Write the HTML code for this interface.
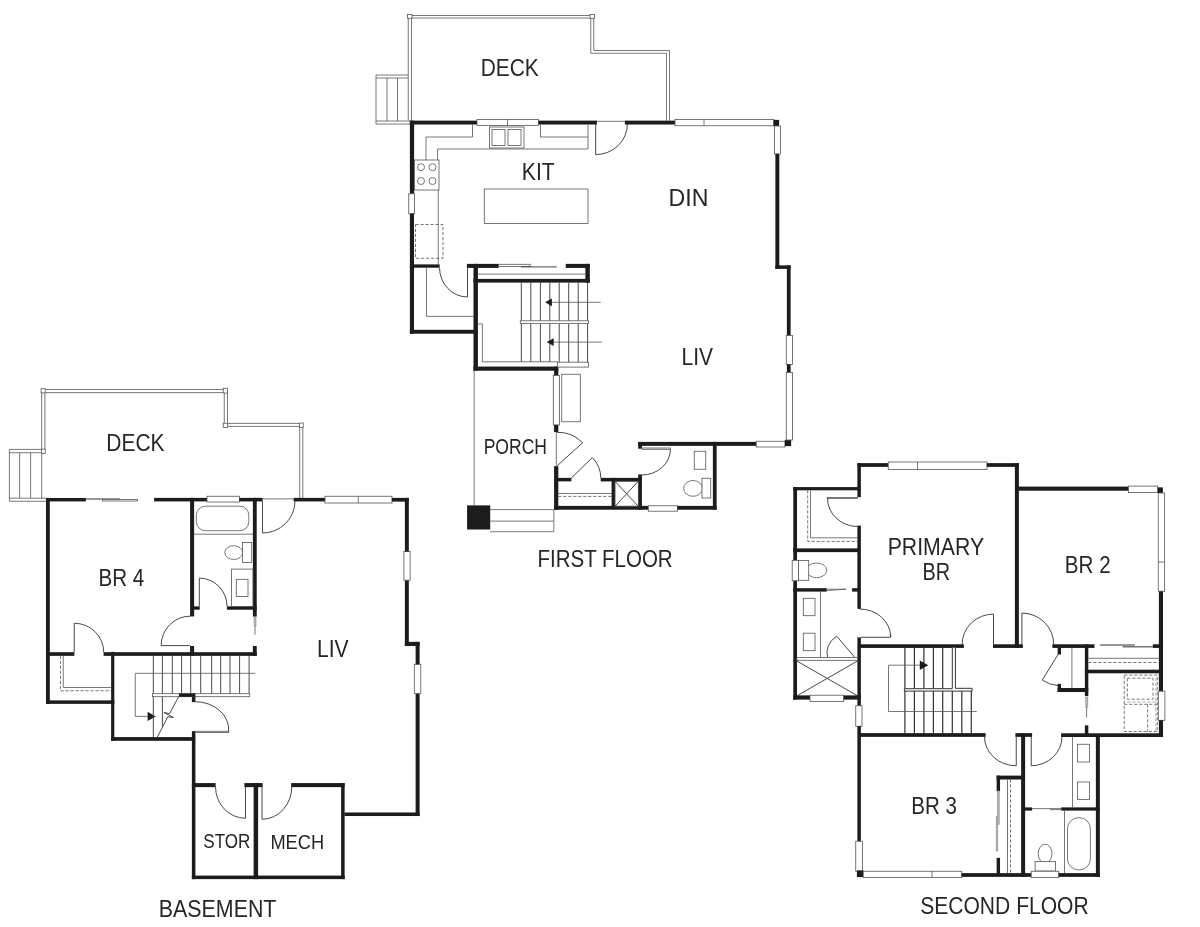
<!DOCTYPE html>
<html><head><meta charset="utf-8"><title>Floor Plans</title>
<style>
html,body{margin:0;padding:0;background:#fff}
svg{display:block}
.w{fill:#1c1c1c;stroke:none}
.t{fill:none;stroke:#555;stroke-width:.8}
.s{fill:none;stroke:#333;stroke-width:.9}
.sg{fill:none;stroke:#4a4a4a;stroke-width:1}
.st{fill:none;stroke:#333;stroke-width:1.2}
.nr{fill:#fff;stroke:#333;stroke-width:1}
.n{fill:#fff;stroke:#555;stroke-width:.8}
.d{fill:none;stroke:#555;stroke-width:.8;stroke-dasharray:3.2 1.8}
.d2{fill:none;stroke:#999;stroke-width:.8;stroke-dasharray:3.2 1.8}
.g{fill:none;stroke:#777;stroke-width:1.4}
.g2{fill:#bbb;stroke:#888;stroke-width:.6}
text{font-family:"Liberation Sans",sans-serif;fill:#262626}
.tx{filter:grayscale(1)}
</style></head><body>
<svg width="1200" height="927" viewBox="0 0 1200 927">
<rect x="0" y="0" width="1200" height="927" fill="#fff"/>
<rect class="n" x="407.50" y="14.50" width="4.50" height="3.80"/>
<rect class="n" x="590.00" y="14.50" width="4.50" height="3.80"/>
<path class="t" d="M412 15.5H590M412 18H590"/>
<path class="t" d="M408.25 18.3V120.5M411.5 18.3V120.5"/>
<path class="t" d="M593.75 18.3V50.5H669.5V120.7"/>
<path class="t" d="M590.75 18.3V53.25H666.5V120.7"/>
<path class="t" d="M408 75H376V124H410M376 78H408M376 121H410M387 78V121M397.5 78V121"/>
<rect class="w" x="409.88" y="120.63" width="67.24" height="3.89"/>
<rect class="n" x="477.00" y="119.50" width="61.50" height="6.00"/>
<path class="t" d="M507.5 119.5V125.5"/>
<rect class="w" x="538.38" y="120.63" width="58.54" height="3.89"/>
<path class="t" d="M596.5 121.3H625"/>
<path class="s" d="M595.7 124V154.6A31.7 30.6 0 0 0 627.4 124"/>
<rect class="w" x="624.88" y="120.63" width="50.24" height="3.89"/>
<rect class="n" x="675.00" y="119.50" width="98.75" height="6.25"/>
<path class="t" d="M704 119.5V125.75"/>
<rect class="w" x="773.63" y="119.88" width="5.49" height="6.24"/>
<rect class="n" x="774.50" y="126.00" width="6.00" height="28.00"/>
<rect class="w" x="409.88" y="120.63" width="4.24" height="73.24"/>
<rect class="n" x="408.75" y="193.75" width="5.75" height="20.00"/>
<rect class="w" x="409.88" y="213.63" width="4.14" height="120.09"/>
<rect class="w" x="409.88" y="264.38" width="29.74" height="3.34"/>
<rect class="w" x="409.88" y="329.78" width="67.74" height="3.94"/>
<rect class="w" x="473.48" y="263.88" width="4.44" height="106.84"/>
<rect class="w" x="466.88" y="263.88" width="31.84" height="4.04"/>
<rect class="w" x="565.78" y="263.88" width="24.04" height="4.04"/>
<rect class="w" x="585.38" y="263.88" width="4.44" height="18.74"/>
<rect class="w" x="473.48" y="278.88" width="116.34" height="3.74"/>
<rect class="w" x="473.48" y="366.58" width="84.84" height="4.14"/>
<rect class="w" x="554.08" y="366.58" width="4.24" height="9.04"/>
<rect class="n" x="498.60" y="264.30" width="31.50" height="2.10"/>
<path class="s" d="M521 266.9H556.8"/>
<path class="t" d="M477.8 274.1H585.5"/>
<rect class="n" x="553.30" y="375.50" width="6.10" height="49.50"/>
<rect class="w" x="554.08" y="424.88" width="4.24" height="7.24"/>
<rect class="w" x="554.08" y="466.18" width="4.24" height="43.54"/>
<rect class="w" x="554.08" y="505.88" width="94.34" height="3.84"/>
<rect class="n" x="648.30" y="505.80" width="29.10" height="5.40"/>
<rect class="w" x="677.28" y="505.88" width="39.34" height="3.84"/>
<rect class="w" x="557.38" y="477.88" width="13.99" height="3.49"/>
<rect class="w" x="600.68" y="477.88" width="41.24" height="3.54"/>
<rect class="w" x="611.58" y="477.88" width="3.54" height="31.24"/>
<rect class="w" x="638.18" y="442.08" width="3.74" height="6.64"/>
<rect class="w" x="638.18" y="474.48" width="3.74" height="35.24"/>
<rect class="w" x="638.13" y="441.88" width="118.24" height="3.99"/>
<rect class="n" x="756.25" y="441.25" width="28.75" height="5.75"/>
<rect class="w" x="784.88" y="439.88" width="6.24" height="6.24"/>
<rect class="w" x="712.88" y="441.88" width="3.74" height="67.84"/>
<rect class="w" x="775.38" y="153.88" width="3.94" height="114.99"/>
<rect class="w" x="775.38" y="265.38" width="15.24" height="3.49"/>
<rect class="w" x="786.88" y="265.38" width="3.74" height="70.24"/>
<rect class="n" x="786.25" y="335.50" width="6.25" height="29.00"/>
<rect class="w" x="786.88" y="364.38" width="3.74" height="8.24"/>
<rect class="n" x="786.25" y="372.50" width="6.25" height="67.50"/>
<path class="t" d="M472.5 124.4V137H426V160"/>
<path class="t" d="M437.5 160V149H588V124.4"/>
<path class="t" d="M540.5 124.4V137H588"/>
<rect class="n" x="489.50" y="127.00" width="34.50" height="21.00"/>
<rect class="t" x="492.00" y="129.50" width="13.00" height="16.00"/>
<rect class="t" x="508.00" y="129.50" width="13.00" height="16.00"/>
<rect class="n" x="414.50" y="160.00" width="24.50" height="30.00"/>
<circle class="t" cx="421" cy="167.2" r="3.5"/>
<circle class="t" cx="421" cy="181" r="3.5"/>
<circle class="t" cx="432.5" cy="167.2" r="3.5"/>
<circle class="t" cx="432.5" cy="181" r="3.5"/>
<path class="t" d="M438.25 190V264.5"/>
<rect class="d" x="415.50" y="224.50" width="27.50" height="33.75"/>
<rect class="t" x="484.30" y="189.00" width="103.70" height="34.50"/>
<path class="s" d="M439.5 267.6A28 29.5 0 0 0 467.5 297V267.8"/>
<path class="t" d="M426.5 267.6V316.4H473.6"/>
<path class="sg" d="M521.3 282.5V320.8M521.3 323.6V361.8"/>
<path class="sg" d="M530.8 282.5V320.8M530.8 323.6V361.8"/>
<path class="sg" d="M540.4 282.5V320.8M540.4 323.6V361.8"/>
<path class="sg" d="M549.8 282.5V320.8M549.8 323.6V361.8"/>
<path class="sg" d="M559.2 282.5V320.8M559.2 323.6V362.5"/>
<path class="sg" d="M568.7 282.5V320.8M568.7 323.6V362.5"/>
<path class="sg" d="M578.2 282.5V320.8M578.2 323.6V362.5"/>
<path class="sg" d="M587.6 282.5V320.8M587.6 323.6V362.5"/>
<rect class="n" x="520.30" y="320.80" width="68.30" height="2.80"/>
<rect class="n" x="557.50" y="362.20" width="31.10" height="4.90"/>
<path class="t" d="M600.7 302.3H551"/>
<polygon class="w" points="545.1,302.3 551.9,298.4 551.9,306.2"/>
<path class="t" d="M601.9 342.1H553"/>
<polygon class="w" points="546.7,342.1 553.7,338.2 553.7,346"/>
<path class="t" d="M477.8 323.9H482.4V361.8H557.5"/>
<path class="t" d="M474.2 370.6V505.5"/>
<rect class="w" x="467.08" y="505.38" width="23.14" height="24.14"/>
<path class="t" d="M490.1 509.6H553.8V531.7H490.1M490.1 521.1H553.8"/>
<rect class="t" x="561.75" y="374.25" width="18.55" height="47.50"/>
<path class="t" d="M556.3 432.3V466"/>
<path class="s" d="M557.3 465.7L582.6 442.75A34 33.4 0 0 0 556.7 432.3"/>
<path class="s" d="M571.3 478L592.3 457.6A29.3 29 0 0 1 600.8 478"/>
<rect class="t" x="615.00" y="481.30" width="23.30" height="25.00"/>
<path class="s" d="M615 481.3L638.3 506.3M638.3 481.3L615 506.3"/>
<path class="t" d="M558.2 493.5H611.7"/>
<path class="d" d="M558.2 496.4H611.7"/>
<rect class="n" x="641.80" y="448.00" width="28.60" height="1.30"/>
<path class="s" d="M670.4 449.3A28.6 25.7 0 0 1 641.8 475"/>
<rect class="t" x="694.25" y="451.25" width="11.50" height="18.00"/>
<ellipse class="n" cx="693" cy="488.4" rx="9.4" ry="7.9"/>
<rect class="n" x="702.00" y="478.25" width="8.75" height="19.75"/>
<path class="t" d="M45.2 389.5H223.25M45.2 392.6H223.25"/>
<path class="t" d="M41.7 392.9V449.1M44.9 392.9V449.1"/>
<path class="t" d="M224.25 393V423.25M227.5 393V423.25"/>
<path class="t" d="M227.5 423.4H299.4M227.5 426.4H299.4M299.7 427.6V498M302.8 427.6V498"/>
<rect class="n" x="299.40" y="423.00" width="3.80" height="4.60"/>
<rect class="n" x="41.10" y="388.70" width="4.10" height="4.20"/>
<rect class="n" x="223.25" y="388.25" width="4.25" height="4.75"/>
<rect class="n" x="223.25" y="423.25" width="4.25" height="4.25"/>
<rect class="n" x="41.40" y="449.10" width="3.80" height="4.30"/>
<path class="t" d="M41.4 449.4H9.4V501.3H46.3M9.4 452.7H41.4M9.4 498.2H46.3M19.6 452.7V498.2M30.6 452.7V498.2M41.7 453.4V498.2"/>
<rect class="w" x="45.98" y="497.98" width="39.94" height="3.44"/>
<path class="g" d="M85.8 499H120"/>
<rect class="n" x="102.40" y="499.40" width="35.00" height="1.60"/>
<rect class="w" x="154.08" y="497.88" width="53.04" height="3.54"/>
<rect class="n" x="207.00" y="496.25" width="32.50" height="5.75"/>
<rect class="w" x="239.38" y="497.88" width="23.24" height="3.54"/>
<path class="t" d="M262.5 498.9H293.75"/>
<path class="s" d="M262.5 501.25V533A32.5 32 0 0 0 295 501.25"/>
<rect class="w" x="293.63" y="497.88" width="31.49" height="3.54"/>
<rect class="n" x="325.00" y="496.25" width="67.00" height="6.75"/>
<path class="t" d="M358.25 496.25V503"/>
<rect class="w" x="391.88" y="497.88" width="16.94" height="3.74"/>
<rect class="w" x="45.98" y="497.98" width="3.84" height="205.89"/>
<rect class="w" x="190.08" y="497.88" width="4.04" height="118.54"/>
<rect class="w" x="190.08" y="645.98" width="4.04" height="9.89"/>
<rect class="w" x="252.88" y="497.88" width="3.84" height="118.74"/>
<rect class="w" x="252.88" y="645.98" width="3.84" height="9.89"/>
<rect class="w" x="193.63" y="606.38" width="6.09" height="3.34"/>
<rect class="w" x="226.88" y="606.38" width="29.84" height="3.34"/>
<rect class="w" x="45.98" y="652.18" width="28.39" height="3.69"/>
<rect class="w" x="103.63" y="652.18" width="153.09" height="3.69"/>
<rect class="w" x="45.98" y="700.38" width="68.34" height="3.49"/>
<rect class="w" x="111.13" y="651.88" width="3.19" height="88.94"/>
<rect class="w" x="111.13" y="737.08" width="83.99" height="3.74"/>
<rect class="w" x="191.88" y="731.13" width="3.54" height="147.99"/>
<rect class="w" x="191.88" y="693.58" width="3.54" height="8.54"/>
<rect class="w" x="178.88" y="693.58" width="16.54" height="3.24"/>
<rect class="w" x="191.88" y="783.08" width="23.74" height="4.04"/>
<rect class="w" x="244.38" y="783.08" width="18.24" height="4.04"/>
<rect class="w" x="291.13" y="783.08" width="53.49" height="4.04"/>
<rect class="w" x="253.63" y="783.08" width="4.49" height="96.04"/>
<rect class="w" x="191.88" y="875.58" width="152.74" height="3.54"/>
<rect class="w" x="341.13" y="783.08" width="3.49" height="96.04"/>
<rect class="w" x="344.38" y="812.48" width="75.24" height="3.54"/>
<rect class="w" x="415.63" y="693.48" width="3.99" height="122.54"/>
<rect class="n" x="414.30" y="664.25" width="6.50" height="29.35"/>
<rect class="w" x="415.63" y="641.88" width="3.99" height="22.49"/>
<rect class="w" x="404.88" y="641.88" width="14.74" height="4.14"/>
<rect class="w" x="404.88" y="579.88" width="3.94" height="66.14"/>
<rect class="n" x="403.90" y="551.40" width="6.20" height="28.80"/>
<rect class="w" x="404.88" y="497.88" width="3.94" height="53.64"/>
<path class="t" d="M193.75 534.2H253"/>
<rect class="t" x="196.40" y="506.20" width="52.40" height="24.50" rx="9"/>
<ellipse class="n" cx="233.75" cy="552.6" rx="8.9" ry="6.9"/>
<rect class="n" x="242.50" y="542.50" width="9.25" height="20.00"/>
<rect class="t" x="231.60" y="569.10" width="21.40" height="37.40"/>
<rect class="t" x="236.30" y="579.30" width="11.70" height="17.20"/>
<path class="s" d="M199.3 606.5V578.1A27.75 28.4 0 0 1 227.05 606.5"/>
<rect class="g2" x="254.10" y="617.20" width="1.90" height="8.80"/>
<path class="t" d="M255 626V634.8"/>
<path class="s" d="M190.2 645.6H161.1A29.4 29.5 0 0 1 190.6 616.1"/>
<path class="s" d="M74.25 652.3V623.25A29.5 29 0 0 1 103.75 652.3"/>
<path class="t" d="M63.25 655.75V687.5H111.25"/>
<path class="d" d="M60.5 655.75V690.75H111.25"/>
<path class="sg" d="M153.3 655.75V693.7"/>
<path class="sg" d="M162.4 655.75V693.7"/>
<path class="sg" d="M172.3 655.75V693.7"/>
<path class="sg" d="M181.6 655.75V693.7"/>
<path class="sg" d="M190.7 655.75V693.7"/>
<path class="sg" d="M200.7 655.75V693.7"/>
<path class="sg" d="M211.7 655.75V693.7"/>
<path class="sg" d="M220.7 655.75V693.7"/>
<path class="sg" d="M230 655.75V693.7"/>
<path class="sg" d="M239.6 655.75V693.7"/>
<path class="sg" d="M249.1 655.75V693.7"/>
<rect class="n" x="152.40" y="693.70" width="97.30" height="3.00"/>
<rect class="w" x="178.88" y="693.58" width="16.54" height="3.24"/>
<path class="t" d="M255.3 673.3H135.3V716.4H148"/>
<polygon class="w" points="155.7,716.4 147.6,711.7 147.6,721.1"/>
<path class="sg" d="M153.3 696.7V737.2"/>
<path class="sg" d="M162.4 696.7V727"/>
<path class="s" d="M178.7 696.7L169.6 713.6L164 712.5L173.3 717.4L167.8 716.8L157.3 737.2"/>
<rect class="n" x="195.30" y="731.30" width="33.40" height="1.20"/>
<path class="s" d="M195.3 701.7A33.5 28 0 0 1 228.7 731"/>
<path class="s" d="M245.5 786.75V818.25A30 31.5 0 0 1 215.5 786.75"/>
<path class="s" d="M262 786.75V819.25A29.75 32.5 0 0 0 291.75 786.75"/>
<rect class="w" x="857.38" y="463.13" width="30.99" height="3.74"/>
<rect class="n" x="888.25" y="462.00" width="98.75" height="7.50"/>
<path class="t" d="M917.5 462V469.5"/>
<rect class="w" x="986.88" y="463.13" width="31.99" height="3.74"/>
<rect class="w" x="857.38" y="463.13" width="3.49" height="33.99"/>
<rect class="w" x="857.38" y="525.63" width="3.49" height="83.24"/>
<rect class="w" x="857.38" y="637.38" width="3.49" height="68.49"/>
<rect class="n" x="855.75" y="705.75" width="6.25" height="20.50"/>
<rect class="w" x="857.38" y="726.13" width="3.49" height="115.24"/>
<rect class="n" x="855.75" y="841.25" width="6.75" height="30.00"/>
<rect class="w" x="856.88" y="870.38" width="6.49" height="6.74"/>
<rect class="w" x="1014.88" y="463.13" width="3.99" height="184.49"/>
<rect class="w" x="1017.88" y="486.58" width="110.64" height="4.14"/>
<rect class="n" x="1128.40" y="486.10" width="29.35" height="6.50"/>
<rect class="w" x="1157.63" y="487.38" width="5.24" height="5.64"/>
<rect class="n" x="1158.25" y="493.00" width="6.40" height="98.25"/>
<path class="t" d="M1158.25 562H1164.65"/>
<rect class="w" x="1158.88" y="591.38" width="4.14" height="99.94"/>
<rect class="n" x="1158.30" y="691.20" width="6.60" height="29.10"/>
<rect class="w" x="1158.88" y="720.18" width="4.14" height="16.84"/>
<rect class="w" x="793.28" y="487.08" width="64.84" height="3.24"/>
<rect class="w" x="793.28" y="486.98" width="3.74" height="212.64"/>
<rect class="n" x="792.20" y="560.30" width="6.40" height="20.50"/>
<rect class="w" x="793.28" y="548.38" width="64.84" height="3.74"/>
<rect class="w" x="793.13" y="588.18" width="33.59" height="3.44"/>
<rect class="w" x="852.08" y="588.18" width="7.04" height="3.44"/>
<path class="t" d="M826.6 589.2H846L826.6 590.6"/>
<rect class="w" x="793.13" y="695.38" width="16.99" height="4.24"/>
<rect class="n" x="810.00" y="695.20" width="33.75" height="6.30"/>
<rect class="w" x="843.63" y="695.38" width="17.24" height="4.24"/>
<path class="t" d="M810.5 490.3V537.8H857.5"/>
<path class="d" d="M807.7 490.3V541.4H857.5"/>
<rect class="n" x="827.30" y="497.40" width="30.20" height="1.00"/>
<path class="s" d="M827.5 498.3A30 28.2 0 0 0 857.5 526.5"/>
<ellipse class="n" cx="816.5" cy="570.35" rx="10.2" ry="7.35"/>
<rect class="n" x="798.60" y="560.40" width="10.10" height="19.90"/>
<path class="t" d="M820.5 591.5V657.5"/>
<rect class="t" x="803.30" y="598.30" width="11.70" height="17.40"/>
<rect class="t" x="803.30" y="633.20" width="11.70" height="17.50"/>
<path class="s" d="M859.6 609A31 28 0 0 1 890.7 637M890.7 634.5V637.3H860.75"/>
<path class="s" d="M827.6 657.5A27 21.5 0 0 1 836.7 636.1L854.8 657.5"/>
<rect class="n" x="796.90" y="657.50" width="60.60" height="2.80"/>
<path class="s" d="M796.9 661L857.5 695.8M857.5 661L796.9 695.8"/>
<rect class="w" x="859.13" y="644.28" width="104.74" height="3.64"/>
<rect class="w" x="992.98" y="644.28" width="29.89" height="3.64"/>
<rect class="w" x="1052.38" y="644.28" width="42.14" height="3.64"/>
<rect class="w" x="1152.88" y="644.28" width="10.14" height="3.64"/>
<path class="g" d="M1099.8 645H1134.9M1122.5 646.7H1153"/>
<path class="s" d="M993.5 644.4V614.1A31.4 30.3 0 0 0 962.1 644.4"/>
<path class="s" d="M1021.9 644.4V613.1A31.85 31.3 0 0 1 1053.75 644.4"/>
<rect class="w" x="1057.63" y="647.38" width="3.39" height="7.14"/>
<rect class="w" x="1057.63" y="683.88" width="3.39" height="8.14"/>
<rect class="w" x="1057.63" y="687.98" width="30.59" height="4.04"/>
<path class="s" d="M1058.1 654.4L1042.25 680A30 30 0 0 0 1058.1 685.6"/>
<path class="t" d="M1071.9 647.8V688.1"/>
<rect class="w" x="1084.88" y="644.28" width="3.44" height="51.84"/>
<rect class="w" x="1084.88" y="725.38" width="3.44" height="10.99"/>
<rect class="g2" x="1085.80" y="697.20" width="2.00" height="10.20"/>
<path class="t" d="M1086.6 707.4V717.6"/>
<path class="t" d="M1088.2 658.3H1158.75"/>
<path class="d" d="M1088.25 662.5H1158.75"/>
<rect class="w" x="1084.88" y="669.68" width="78.14" height="3.64"/>
<rect class="d" x="1124.20" y="675.10" width="33.10" height="56.40"/>
<rect class="d" x="1127.30" y="678.20" width="25.70" height="21.00"/>
<path class="d" d="M1124.2 704.3H1157.3M1147.6 704.3V731.5"/>
<path class="d2" d="M1127.3 702H1155.9M1155.9 678.2V731.5"/>
<path class="st" d="M904.9 647.6V688.6M904.9 691V733.25"/>
<path class="st" d="M914.4 647.6V688.6M914.4 691V733.25"/>
<path class="st" d="M923.9 647.6V688.6M923.9 691V733.25"/>
<path class="st" d="M933.4 647.6V688.6M933.4 691V733.25"/>
<path class="st" d="M942.7 647.6V688.6M942.7 691V733.25"/>
<path class="st" d="M952.3 691V733.25M961.8 691V733.25M971.3 691V733.25"/>
<path class="nr" d="M952.3 647.8V688.7H904.4V691.1H972.1V688.3H955.4V647.8"/>
<path class="t" d="M976.7 711.5H888.5V665.2H920"/>
<polygon class="w" points="928.2,665.2 919.8,660.4 919.8,670"/>
<rect class="w" x="859.13" y="733.13" width="126.49" height="3.74"/>
<rect class="w" x="1015.38" y="733.13" width="16.74" height="3.74"/>
<rect class="w" x="1061.13" y="733.28" width="101.89" height="3.74"/>
<path class="s" d="M1016.25 736.75V765.75A31.5 29 0 0 1 984.5 736.75"/>
<path class="s" d="M1031.25 736.75V765.75A31 29 0 0 0 1062 736.75"/>
<rect class="w" x="1021.13" y="733.13" width="3.99" height="143.74"/>
<rect class="w" x="996.63" y="775.63" width="26.49" height="3.89"/>
<rect class="w" x="996.63" y="775.63" width="3.39" height="15.49"/>
<rect class="w" x="996.63" y="857.88" width="3.39" height="15.74"/>
<rect class="g2" x="997.40" y="791.00" width="1.80" height="33.30"/>
<rect class="g2" x="996.20" y="816.50" width="1.60" height="34.50"/>
<path class="t" d="M1007.5 779.4V873.25"/>
<path class="d" d="M1010.5 779.4V873.25"/>
<rect class="w" x="1024.88" y="807.38" width="7.24" height="3.24"/>
<rect class="w" x="1061.13" y="807.38" width="38.49" height="3.24"/>
<path class="t" d="M1032 808.6H1061.25M1050 809.6H1061.25"/>
<rect class="w" x="1095.88" y="736.63" width="3.99" height="140.24"/>
<path class="t" d="M1072.5 736.75V807.5"/>
<rect class="t" x="1077.50" y="744.25" width="12.00" height="17.75"/>
<rect class="t" x="1077.50" y="782.00" width="12.00" height="17.50"/>
<path class="t" d="M1064.5 810.5V873.25"/>
<rect class="t" x="1067.50" y="817.70" width="22.90" height="52.20" rx="11"/>
<ellipse class="n" cx="1045.1" cy="853.6" rx="6.9" ry="9.4"/>
<rect class="n" x="1035.10" y="861.40" width="20.40" height="9.60"/>
<rect class="n" x="863.25" y="871.25" width="98.50" height="6.25"/>
<path class="t" d="M932 871.25V877.5"/>
<rect class="w" x="961.63" y="873.13" width="69.74" height="3.74"/>
<rect class="n" x="1031.25" y="871.25" width="27.50" height="6.25"/>
<rect class="w" x="1058.63" y="873.13" width="41.24" height="3.74"/>
<g class="tx">
<text x="480.67" y="75.8" font-size="24.4" textLength="58.10" lengthAdjust="spacingAndGlyphs">DECK</text>
<text x="521.83" y="180.3" font-size="24.4" textLength="32.90" lengthAdjust="spacingAndGlyphs">KIT</text>
<text x="668.5" y="206.3" font-size="24.4" textLength="39.86" lengthAdjust="spacingAndGlyphs">DIN</text>
<text x="681.5" y="365" font-size="24.4" textLength="31.50" lengthAdjust="spacingAndGlyphs">LIV</text>
<text x="483.63" y="453.6" font-size="21.3" textLength="63.35" lengthAdjust="spacingAndGlyphs">PORCH</text>
<text x="537.5" y="566.5" font-size="24.4" textLength="135.19" lengthAdjust="spacingAndGlyphs">FIRST FLOOR</text>
<text x="106.34" y="451.2" font-size="24.4" textLength="58.14" lengthAdjust="spacingAndGlyphs">DECK</text>
<text x="98.5" y="586.25" font-size="24.4" textLength="45.77" lengthAdjust="spacingAndGlyphs">BR 4</text>
<text x="316.95" y="657" font-size="24.4" textLength="31.68" lengthAdjust="spacingAndGlyphs">LIV</text>
<text x="203.31" y="848" font-size="20.4" textLength="47.13" lengthAdjust="spacingAndGlyphs">STOR</text>
<text x="270.38" y="848.9" font-size="20.4" textLength="53.71" lengthAdjust="spacingAndGlyphs">MECH</text>
<text x="158.82" y="917.4" font-size="24.4" textLength="117.59" lengthAdjust="spacingAndGlyphs">BASEMENT</text>
<text x="887.68" y="554.5" font-size="24.4" textLength="96.47" lengthAdjust="spacingAndGlyphs">PRIMARY</text>
<text x="922.5" y="580.3" font-size="24.4" textLength="27.63" lengthAdjust="spacingAndGlyphs">BR</text>
<text x="1064.84" y="572.5" font-size="24.4" textLength="45.76" lengthAdjust="spacingAndGlyphs">BR 2</text>
<text x="911.23" y="813.75" font-size="24.4" textLength="45.65" lengthAdjust="spacingAndGlyphs">BR 3</text>
<text x="920.2" y="913.7" font-size="24.4" textLength="168.49" lengthAdjust="spacingAndGlyphs">SECOND FLOOR</text>
</g>
</svg>
</body></html>
